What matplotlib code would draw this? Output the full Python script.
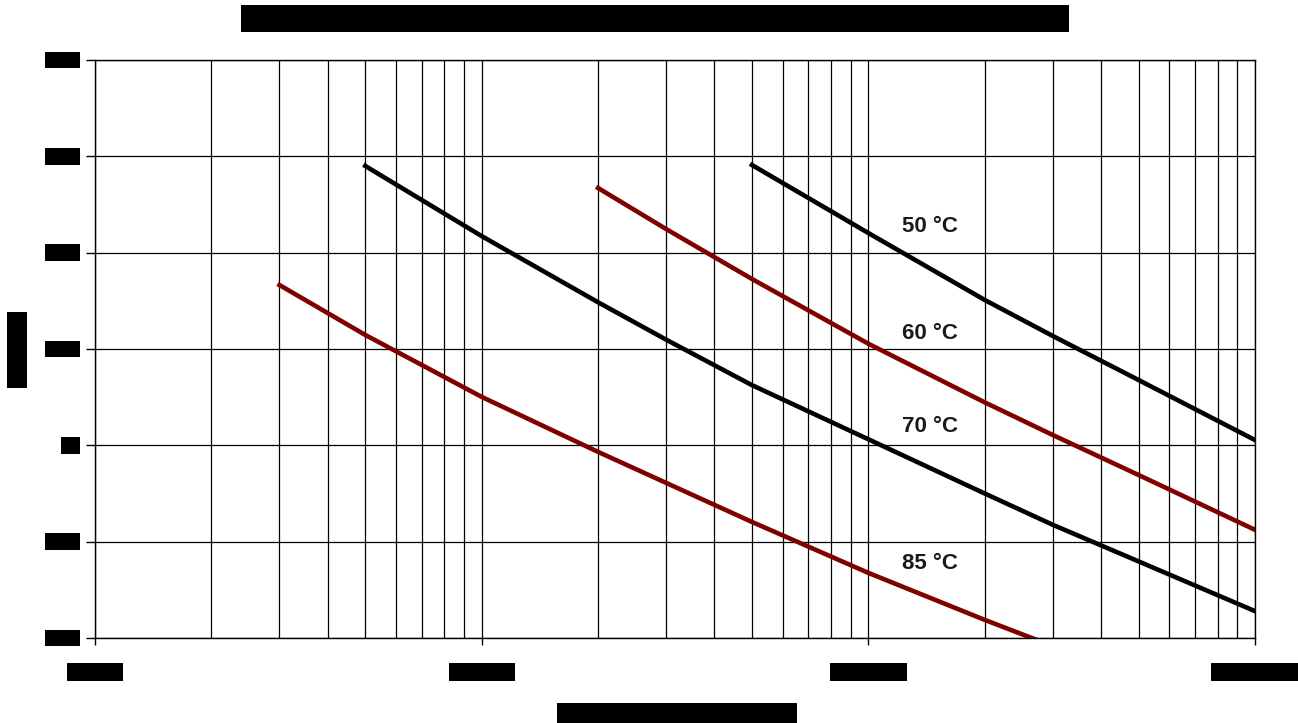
import matplotlib
matplotlib.use("Agg")
import matplotlib.pyplot as plt
from matplotlib.path import Path
from matplotlib.ticker import LogLocator, NullFormatter

# vida útil (h) frente a U/Un, una curva por temperatura
hours_50 = [5e4, 1e5, 2e5, 3e5, 5e5, 1e6]
ratio_50 = [1.291, 1.2204, 1.1509, 1.1135, 1.0678, 1.0055]

hours_60 = [2e4, 3e4, 5e4, 1e5, 2e5, 3e5, 5e5, 1e6]
ratio_60 = [1.2671, 1.2245, 1.1727, 1.1055, 1.0446, 1.0107, 0.9692, 0.9123]

hours_70 = [5e3, 1e4, 2e4, 3e4, 5e4, 1e5, 2e5, 3e5, 5e5, 1e6]
ratio_70 = [1.290, 1.2172, 1.1485, 1.1097, 1.0625, 1.0063, 0.950, 0.9175,
            0.8795, 0.8279]

hours_85 = [3e3, 5e3, 1e4, 2e4, 3e4, 5e4, 1e5, 2e5, 3e5]
ratio_85 = [1.1664, 1.1146, 1.0503, 0.9932, 0.961, 0.9205, 0.8676, 0.8188, 0.7916]

curve_labels = ["50 °C", "60 °C", "70 °C", "85 °C"]
label_x = [1.44e5, 1.44e5, 1.44e5, 1.44e5]
label_y = [1.227, 1.116, 1.020, 0.877]

x_ticks = [1e3, 1e4, 1e5, 1e6]
x_ticklabels = ["1000", "10000", "100000", "1000000"]
y_ticks = [0.8, 0.9, 1.0, 1.1, 1.2, 1.3, 1.4]
y_ticklabels = ["0.8", "0.9", "1", "1.1", "1.2", "1.3", "1.4"]

title = "Vida útil en función de la tensión aplicada y de la temperatura ambiente"
xlabel = "Vida útil (horas)"
ylabel = "Ua/Un"

dark_red = "#800000"
plt.rcParams["font.family"] = ["Liberation Sans", "DejaVu Sans"]


def bar_style(hpad, vhalf, shift=0.1):
    # solid marker over the text: sideways padding and fixed height
    def box(x0, y0, width, height, mutation_size):
        cy = y0 + height / 2 + shift * mutation_size
        h = vhalf * mutation_size
        p = hpad * mutation_size
        return Path([(x0 - p, cy - h), (x0 + width + p, cy - h),
                     (x0 + width + p, cy + h), (x0 - p, cy + h),
                     (x0 - p, cy - h)], closed=True)
    return box


def bar(hpad, vhalf):
    return dict(boxstyle=bar_style(hpad, vhalf), fc="black", ec="none")


fig = plt.figure(figsize=(12.98, 7.23), dpi=100)
ax = fig.add_axes([95 / 1298, 1 - 638 / 723, 1160 / 1298, 578 / 723])

ax.plot(hours_50, ratio_50, color="black", lw=3.3)
ax.plot(hours_60, ratio_60, color=dark_red, lw=3.3)
ax.plot(hours_70, ratio_70, color="black", lw=3.3)
ax.plot(hours_85, ratio_85, color=dark_red, lw=3.3)

for s, x, y in zip(curve_labels, label_x, label_y):
    ax.text(x, y, s, ha="center", va="center", fontsize=16, fontweight="bold",
            color="#1a1a1a")

ax.set_xscale("log")
ax.set_xlim(1e3, 1e6)
ax.set_ylim(0.8, 1.4)
ax.xaxis.set_minor_locator(LogLocator(base=10, subs=range(2, 10)))
ax.xaxis.set_minor_formatter(NullFormatter())
ax.set_xticks(x_ticks, x_ticklabels, fontsize=14.3, color="black",
              bbox=bar(0.28, 0.455))
ax.set_yticks(y_ticks, y_ticklabels, fontsize=14.3, color="black",
              bbox=bar(0.19, 0.42))

ax.grid(which="both", axis="x", color="black", lw=0.9)
ax.grid(which="major", axis="y", color="black", lw=0.9)
ax.tick_params(axis="x", which="major", direction="out", length=5, width=1, pad=14)
ax.tick_params(axis="x", which="minor", length=0)
ax.tick_params(axis="y", which="major", direction="out", length=6.5, width=1, pad=7)
for sp in ax.spines.values():
    sp.set_color("black")
    sp.set_linewidth(1)

t = fig.text(655 / 1298, 1 - 21 / 723, title, ha="center", va="center",
             fontsize=15, fontweight="bold", color="black", bbox=bar(0.15, 0.55))
xl = ax.set_xlabel(xlabel, fontsize=15, fontweight="bold", color="black",
                   va="center", bbox=bar(0.15, 0.5))
ax.xaxis.set_label_coords((677 - 95) / 1160, (638 - 721) / 578)
yl = ax.set_ylabel(ylabel, fontsize=14.3, fontweight="bold", color="black",
                   va="center", bbox=bar(0.45, 0.5))
ax.yaxis.set_label_coords((19 - 95) / 1160, (638 - 350) / 578)

# stretch title and axis label to the width of their bars
fig.canvas.draw()
for txt, target in [(t, 824), (xl, 231)]:
    w = txt.get_window_extent().width
    txt.set_fontsize(txt.get_fontsize() * target / w)

fig.savefig("out.png", dpi=100)
